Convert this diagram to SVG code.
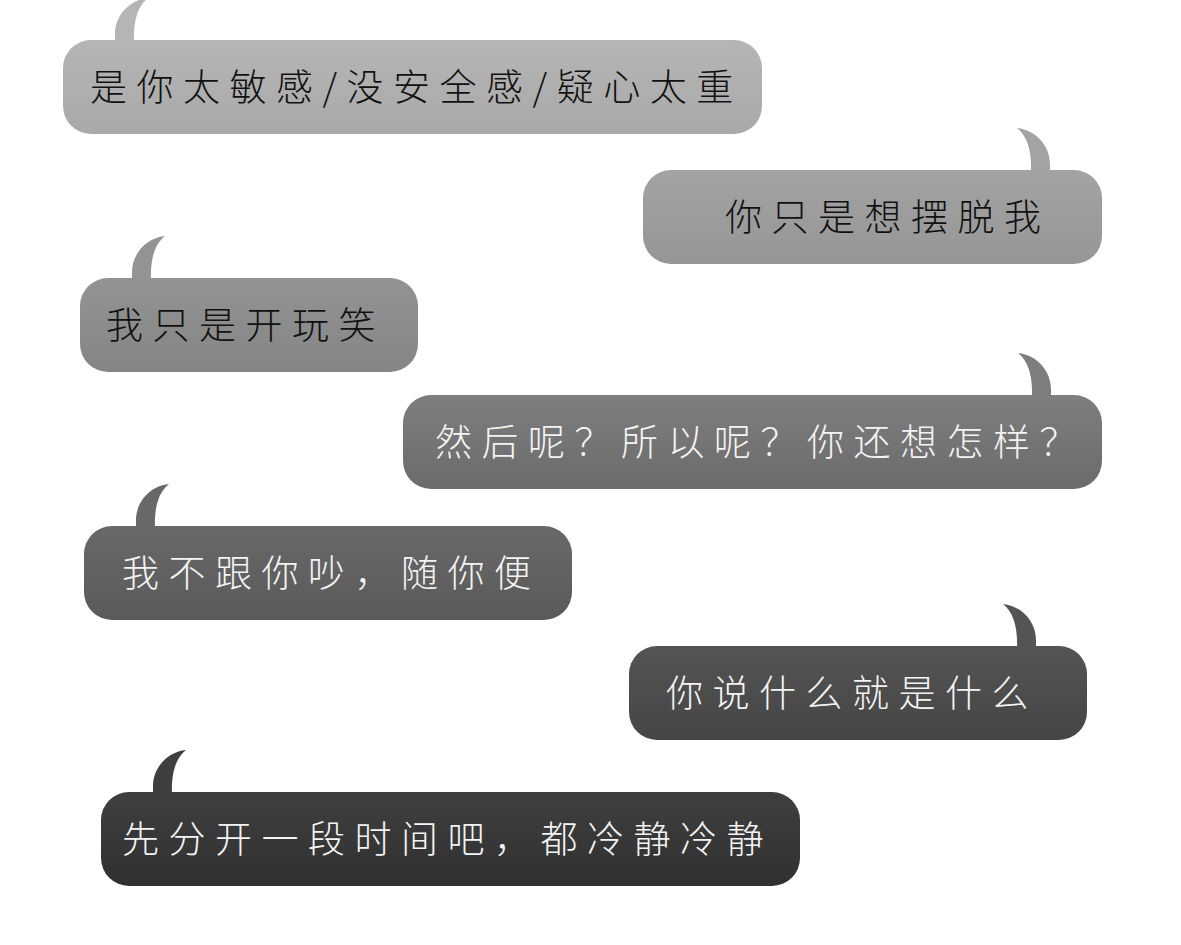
<svg xmlns="http://www.w3.org/2000/svg" width="1181" height="945" viewBox="0 0 1181 945">
<defs>
<linearGradient id="g1" x1="0" y1="0" x2="0" y2="1"><stop offset="0" stop-color="#b5b5b5"/><stop offset="1" stop-color="#a9a9a9"/></linearGradient>
<linearGradient id="g2" x1="0" y1="0" x2="0" y2="1"><stop offset="0" stop-color="#a3a3a3"/><stop offset="1" stop-color="#969696"/></linearGradient>
<linearGradient id="g3" x1="0" y1="0" x2="0" y2="1"><stop offset="0" stop-color="#939393"/><stop offset="1" stop-color="#858585"/></linearGradient>
<linearGradient id="g4" x1="0" y1="0" x2="0" y2="1"><stop offset="0" stop-color="#7e7e7e"/><stop offset="1" stop-color="#6b6b6b"/></linearGradient>
<linearGradient id="g5" x1="0" y1="0" x2="0" y2="1"><stop offset="0" stop-color="#686868"/><stop offset="1" stop-color="#5a5a5a"/></linearGradient>
<linearGradient id="g6" x1="0" y1="0" x2="0" y2="1"><stop offset="0" stop-color="#545454"/><stop offset="1" stop-color="#454545"/></linearGradient>
<linearGradient id="g7" x1="0" y1="0" x2="0" y2="1"><stop offset="0" stop-color="#3f3f3f"/><stop offset="1" stop-color="#303030"/></linearGradient>
<path id="tl" d="M0,4 L0,-6 C0,-24 14,-40 33,-42 C23,-34 18,-20 19,4 Z"/>
<path id="tr" d="M0,4 L0,-6 C0,-24 -14,-40 -33,-42 C-23,-34 -18,-20 -19,4 Z"/>
</defs>
<style>
text{font-family:"Noto Sans CJK SC","Noto Sans",sans-serif;font-size:37px;font-weight:300;letter-spacing:9.5px}
.dk{fill:#111111}
.lt{fill:#f4f4f4}
</style>
<rect width="1181" height="945" fill="#ffffff"/>
<g id="connectors"></g>
<g id="b1">
<use href="#tl" x="115" y="40" fill="#b5b5b5"/>
<rect x="63" y="40" width="699" height="94" rx="28" fill="url(#g1)"/>
<text class="dk" x="90" y="101">是你太敏感/没安全感/疑心太重</text>
</g>
<g id="b2">
<use href="#tr" x="1050" y="170" fill="#a3a3a3"/>
<rect x="643" y="170" width="459" height="94" rx="28" fill="url(#g2)"/>
<text class="dk" x="725" y="231">你只是想摆脱我</text>
</g>
<g id="b3">
<use href="#tl" x="132" y="278" fill="#939393"/>
<rect x="80" y="278" width="338" height="94" rx="28" fill="url(#g3)"/>
<text class="dk" x="106" y="339">我只是开玩笑</text>
</g>
<g id="b4">
<use href="#tr" x="1051" y="395" fill="#7e7e7e"/>
<rect x="403" y="395" width="699" height="94" rx="28" fill="url(#g4)"/>
<text class="lt" x="435" y="456">然后呢？所以呢？你还想怎样？</text>
</g>
<g id="b5">
<use href="#tl" x="136" y="526" fill="#686868"/>
<rect x="84" y="526" width="488" height="94" rx="28" fill="url(#g5)"/>
<text class="lt" x="122" y="587">我不跟你吵，随你便</text>
</g>
<g id="b6">
<use href="#tr" x="1036" y="646" fill="#545454"/>
<rect x="629" y="646" width="458" height="94" rx="28" fill="url(#g6)"/>
<text class="lt" x="666" y="707">你说什么就是什么</text>
</g>
<g id="b7">
<use href="#tl" x="153" y="792" fill="#3f3f3f"/>
<rect x="101" y="792" width="699" height="94" rx="28" fill="url(#g7)"/>
<text class="lt" x="122" y="853">先分开一段时间吧，都冷静冷静</text>
</g>
</svg>
